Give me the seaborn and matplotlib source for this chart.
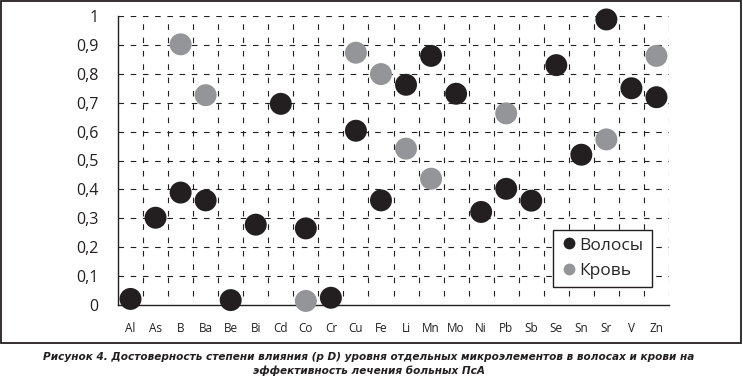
import numpy as np
import pandas as pd
import matplotlib
matplotlib.use("Agg")
import matplotlib.pyplot as plt
import seaborn as sns
from matplotlib.patches import Rectangle
from matplotlib.lines import Line2D

elements = ["Al", "As", "B", "Ba", "Be", "Bi", "Cd", "Co", "Cr", "Cu", "Fe",
            "Li", "Mn", "Mo", "Ni", "Pb", "Sb", "Se", "Sn", "Sr", "V", "Zn"]
hair = [0.021, 0.302, 0.389, 0.362, 0.017, 0.278, 0.696, 0.265, 0.025, 0.603, 0.362,
        0.762, 0.862, 0.731, 0.322, 0.402, 0.361, 0.83, 0.52, 0.988, 0.75, 0.719]
blood = [np.nan, np.nan, 0.902, 0.726, np.nan, np.nan, np.nan, 0.014, np.nan, 0.873, 0.799,
         0.541, 0.437, np.nan, np.nan, 0.663, np.nan, np.nan, np.nan, 0.573, np.nan, 0.862]
series_names = ["Волосы", "Кровь"]
y_ticks = [0, 0.1, 0.2, 0.3, 0.4, 0.5, 0.6, 0.7, 0.8, 0.9, 1.0]
y_tick_labels = ["0", "0,1", "0,2", "0,3", "0,4", "0,5", "0,6", "0,7", "0,8", "0,9", "1"]
caption = ("Рисунок 4. Достоверность степени влияния (p D) уровня отдельных микроэлементов в волосах и крови на\n"
           "эффективность лечения больных ПсА")

colors = {"Волосы": "#231f20", "Кровь": "#939598"}

df = pd.DataFrame({
    "element": elements * 2,
    "value": hair + blood,
    "series": [series_names[0]] * len(elements) + [series_names[1]] * len(elements),
})
df = df.dropna()
df["pos"] = df["element"].map({e: i for i, e in enumerate(elements)})

sns.set_style("white")
plt.rcParams['font.family'] = ['Open Sans', 'DejaVu Sans']

fig = plt.figure(figsize=(7.43, 3.78), dpi=100)
ax = fig.add_axes([118/743, 1-305/378, (669-118)/743, (305-16)/378])

sns.scatterplot(data=df, x="pos", y="value", hue="series", palette=colors,
                hue_order=series_names, s=250, edgecolor="none", linewidth=0,
                clip_on=False, zorder=5, legend=False, ax=ax)

ax.set_xlim(-0.5, len(elements) - 0.5)
ax.set_ylim(0, 1)
ax.set_xticks(range(len(elements)))
ax.set_xticklabels(elements, fontsize=8.5, color="#231f20")
ax.set_yticks(y_ticks)
ax.set_yticklabels(y_tick_labels, fontsize=11.5, color="#231f20")
ax.tick_params(axis="x", which="both", length=0, pad=12)
ax.tick_params(axis="y", which="major", length=6, width=0.8, direction="out",
               color="#231f20", pad=8)
ax.set_xlabel("")
ax.set_ylabel("")

ax.grid(False)
for yv in y_ticks[1:]:
    ax.axhline(yv, color="#231f20", lw=0.8, ls=(0, (5, 6)), zorder=1)
for xv in np.arange(0.5, len(elements), 1):
    ax.plot([xv, xv], [0.03, 1.0], color="#231f20", lw=0.8, ls=(0, (5, 7)), zorder=1)

for side in ["top", "right"]:
    ax.spines[side].set_visible(False)
for side in ["left", "bottom"]:
    ax.spines[side].set_color("#231f20")
    ax.spines[side].set_linewidth(1.0)

handles = [Line2D([], [], marker="o", ls="none", markersize=8.5,
                  markerfacecolor=colors[n], markeredgecolor="none", label=n)
           for n in series_names]
leg = ax.legend(handles=handles, loc="lower left", bbox_to_anchor=(0.789, 0.062),
                frameon=True, fancybox=False, framealpha=1, edgecolor="#231f20",
                fontsize=12.5, handletextpad=0.1, handlelength=1.0,
                borderpad=0.45, labelspacing=0.55, borderaxespad=0)
leg.get_frame().set_linewidth(1.0)
leg.set_zorder(10)

fig.patches.append(Rectangle((1/743, 1-343/378), 740/743, 342/378, transform=fig.transFigure,
                             fill=False, edgecolor="#231f20", lw=1.3))

fig.text(369/743, 1-364/378, caption, ha="center", va="center", fontsize=7.6,
         fontweight="bold", fontstyle="italic", color="#231f20", linespacing=1.35,
         family=['DejaVu Sans'])

fig.savefig("out.png", dpi=100)
